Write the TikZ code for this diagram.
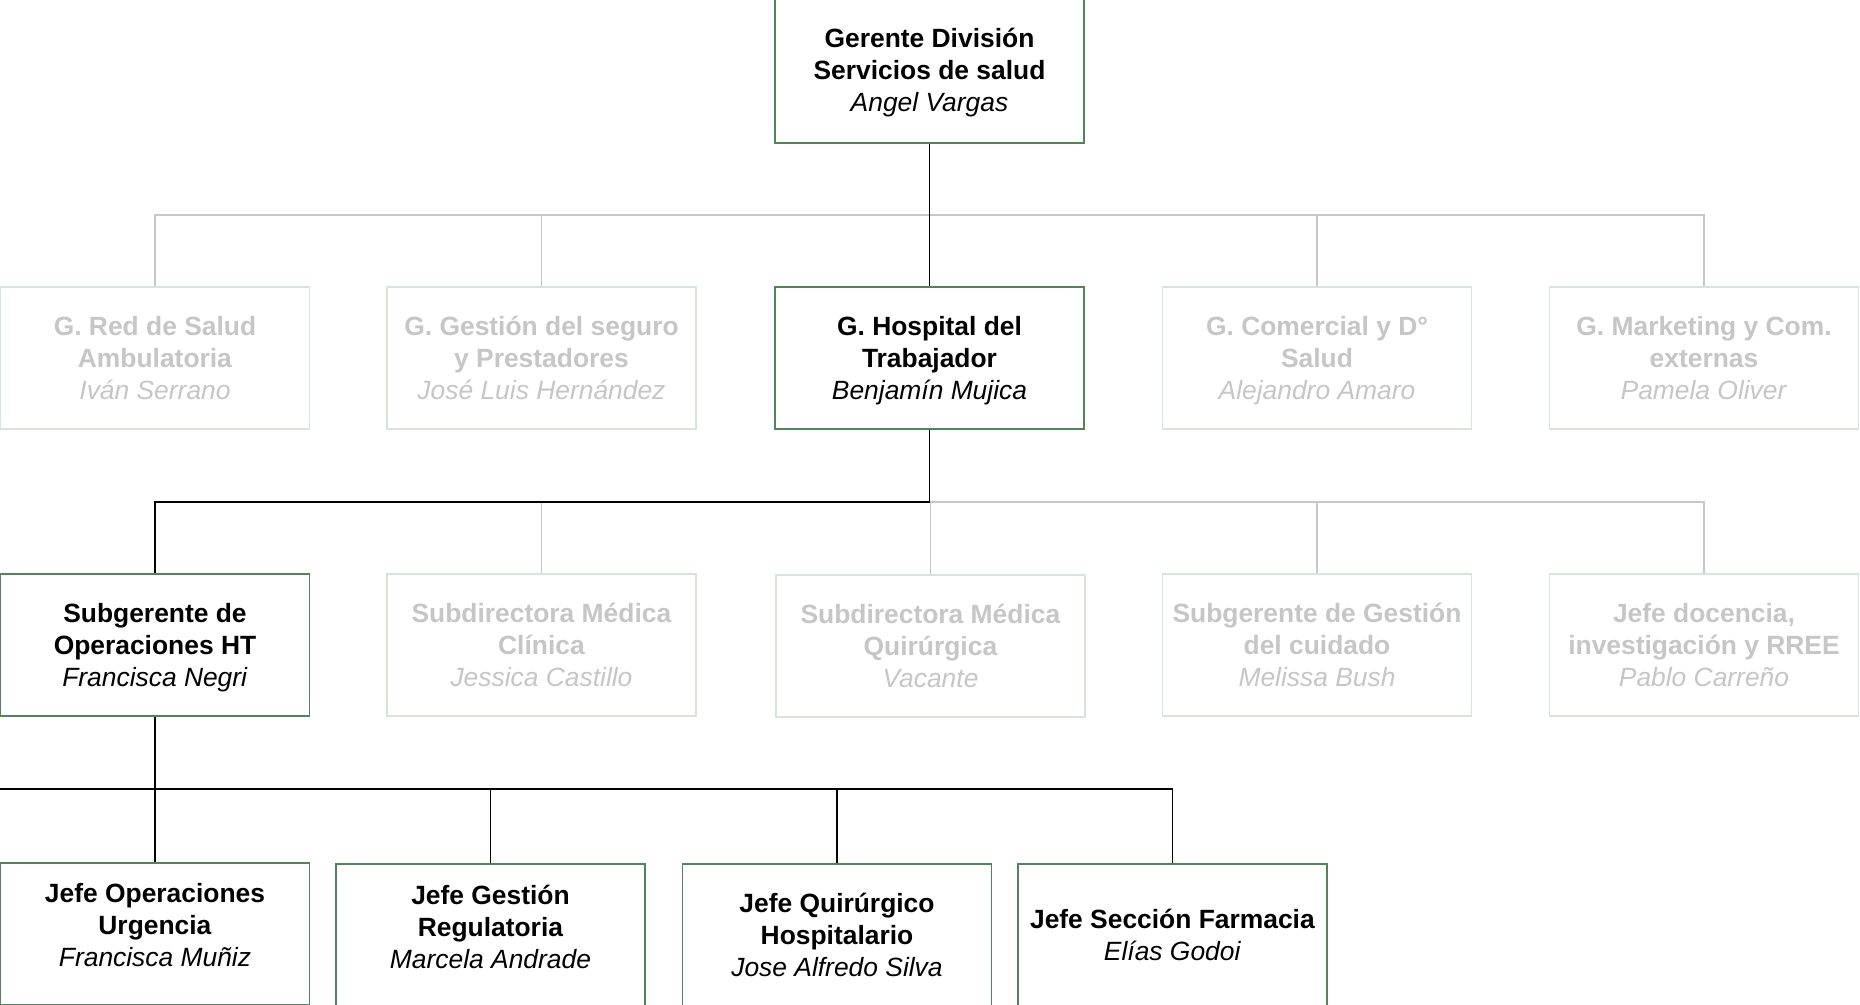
\documentclass[tikz,border=0pt]{standalone}
\usepackage{fontspec}
\setmainfont{Liberation Sans}
\usepackage{tikz}
\usetikzlibrary{calc}

\definecolor{boxgreen}{RGB}{84,130,92}
\definecolor{fadegreen}{RGB}{214,229,217}
\definecolor{fadetext}{RGB}{198,198,198}
\definecolor{fadeline}{RGB}{200,200,200}

\begin{document}
\begin{tikzpicture}[x=0.5pt, y=-0.5pt, font=\fontsize{13.2}{16}\selectfont,
    unit/.style={draw=boxgreen, line width=0.8pt, fill=white, minimum width=154.5pt, minimum height=71pt, align=center, inner sep=2pt, text depth=0pt},
    faded/.style={unit, draw=fadegreen, text=fadetext},
    link/.style={draw=black, line width=0.8pt},
    faint/.style={draw=fadeline, line width=0.8pt}]

        \useasboundingbox (0,0) rectangle (1860,1005);
        \clip (0,0) rectangle (1860,1005);

        % top
        \node[unit, minimum height=73pt] (gdiv) at (929.5,70) {\textbf{Gerente División}\\\textbf{Servicios de salud}\\\textit{Angel Vargas}};

        % gerencias
        \node[faded] (gred) at (155,358) {\textbf{G. Red de Salud}\\\textbf{Ambulatoria}\\\textit{Iván Serrano}};
        \node[faded] (gseg) at (541.5,358) {\textbf{G. Gestión del seguro}\\\textbf{y Prestadores}\\\textit{José Luis Hernández}};
        \node[unit] (ght) at (929.5,358) {\textbf{G. Hospital del}\\\textbf{Trabajador}\\\textit{Benjamín Mujica}};
        \node[faded] (gcom) at (1317,358) {\textbf{G. Comercial y D°}\\\textbf{Salud}\\\textit{Alejandro Amaro}};
        \node[faded] (gmkt) at (1704,358) {\textbf{G. Marketing y Com.}\\\textbf{externas}\\\textit{Pamela Oliver}};

        % subgerencias
        \node[unit] (subop) at (155,645) {\textbf{Subgerente de}\\\textbf{Operaciones HT}\\\textit{Francisca Negri}};
        \node[faded] (sdmc) at (541.5,645) {\textbf{Subdirectora Médica}\\\textbf{Clínica}\\\textit{Jessica Castillo}};
        \node[faded] (sdmq) at (930.5,646) {\textbf{Subdirectora Médica}\\\textbf{Quirúrgica}\\\textit{Vacante}};
        \node[faded] (sgc) at (1317,645) {\textbf{Subgerente de Gestión}\\\textbf{del cuidado}\\\textit{Melissa Bush}};
        \node[faded] (jdoc) at (1704,645) {\textbf{Jefe docencia,}\\\textbf{investigación y RREE}\\\textit{Pablo Carreño}};

        % jefaturas
        \node[unit, text depth=9pt] (jop) at (155,934) {\textbf{Jefe Operaciones}\\\textbf{Urgencia}\\\textit{Francisca Muñiz}};
        \node[unit, text depth=8pt] (jreg) at (490.5,935) {\textbf{Jefe Gestión}\\\textbf{Regulatoria}\\\textit{Marcela Andrade}};
        \node[unit] (jqx) at (837,935) {\textbf{Jefe Quirúrgico}\\\textbf{Hospitalario}\\\textit{Jose Alfredo Silva}};
        \node[unit] (jfar) at (1172.5,935) {\textbf{Jefe Sección Farmacia}\\\textit{Elías Godoi}};

        \coordinate (bus1) at (929.5,215);
        \coordinate (bus2) at (929.5,502);
        \coordinate (bus3) at (155,789);
        \coordinate (westend) at (0,789);

        \foreach \n in {gred,gseg,gcom,gmkt} \draw[faint] (\n.north) |- (bus1);
        \foreach \n in {sdmc,sdmq,sgc,jdoc} \draw[faint] (\n.north) |- (bus2);

        \draw[link] (gdiv.south) -- (ght.north);
        \draw[link] (ght.south) -- (bus2) -| (subop.north);
        \draw[link] (subop.south) -- (bus3);
        \draw[link] (westend) -| (jfar.north);
        \foreach \n in {jop,jreg,jqx} \draw[link] (\n.north) -- (\n.north |- bus3);

\end{tikzpicture}
\end{document}
